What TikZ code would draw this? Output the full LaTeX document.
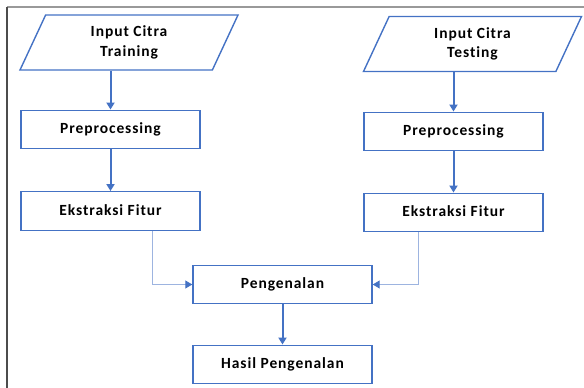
\documentclass[tikz,border=0pt]{standalone}
\usepackage{fontspec}
\setmainfont{Carlito}
\newfontfamily\boxfont[LetterSpace=6,Ligatures={NoCommon,NoDiscretionary,NoRare}]{Carlito}
\usetikzlibrary{shapes.geometric,arrows.meta}
\definecolor{bl}{HTML}{4472C4}
\definecolor{lightbl}{HTML}{9DB4E0}
\tikzset{
  txt/.style={font=\boxfont\fontsize{15.5}{19}\selectfont\bfseries, align=center},
  box/.style={draw=bl, line width=1.4pt, minimum width=179pt, minimum height=38.5pt, inner sep=0pt, txt},
  para/.style={draw=bl, line width=1.4pt, trapezium, trapezium left angle=52, trapezium right angle=128,
    trapezium stretches body, minimum width=218pt, minimum height=55pt, inner sep=0pt, txt},
  arr/.style={draw=bl, line width=2pt, -{Triangle[length=7pt,width=8pt]}},
  conn/.style={draw=lightbl, line width=1pt, -{Triangle[length=7pt,width=8pt,color=bl,fill=bl]}},
}
\begin{document}
\begin{tikzpicture}[x=1pt,y=-1pt]
\useasboundingbox (0,0) rectangle (584,388);
\draw[gray!80, line width=1.3pt] (7,7) -- (584,7);
\draw[black!70, line width=1.3pt] (7,7) -- (7,388);
\node[para] (in1) at (129,42.5) {\raisebox{2pt}{\shortstack{Input Citra\\[3pt]Training}}};
\node[para] (in2) at (472.5,44) {\raisebox{2pt}{\shortstack{Input Citra\\[3pt]Tes{}ting}}};
\node[box] (pre1) at (110.5,129.5) {\raisebox{2pt}{Preprocessing}};
\node[box] (eks1) at (110.5,211) {\raisebox{2pt}{Ekstraksi Fitur}};
\node[box] (pre2) at (453.5,131.5) {\raisebox{2pt}{Preprocessing}};
\node[box] (eks2) at (453.5,212.5) {\raisebox{2pt}{Ekstraksi Fitur}};
\node[box] (pen) at (282.5,284.5) {\raisebox{2pt}{Pengenalan}};
\node[box] (has) at (282.5,364.5) {\raisebox{2pt}{Hasil Pengenalan}};
\draw[arr] (in1.south -| pre1.north) -- (pre1.north);
\draw[arr] (pre1) -- (eks1);
\draw[arr] (in2.south -| pre2.north) -- (pre2.north);
\draw[arr] (pre2) -- (eks2);
\draw[arr] (pen) -- (has);
\coordinate (c1) at (152,0);
\coordinate (c2) at (418,0);
\draw[conn] (eks1.south -| c1) |- (pen.west);
\draw[conn] (eks2.south -| c2) |- (pen.east);
\end{tikzpicture}
\end{document}
